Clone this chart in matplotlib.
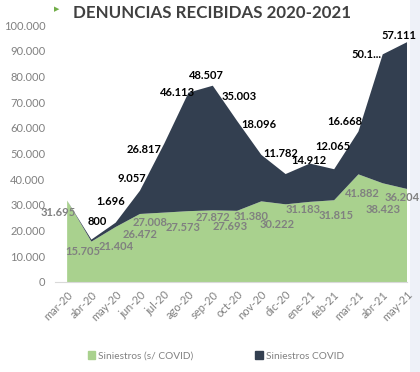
import numpy as np
import matplotlib
matplotlib.use("Agg")
import matplotlib.pyplot as plt
from matplotlib.patches import Patch, Rectangle

# ---------------------------
# DATA
# ---------------------------
meses = ["mar-20", "abr-20", "may-20", "jun-20", "jul-20", "ago-20", "sep-20",
         "oct-20", "nov-20", "dic-20", "ene-21", "feb-21", "mar-21", "abr-21", "may-21"]
sin_covid = [31695, 15705, 21404, 26472, 27008, 27573, 27872,
             27693, 31380, 30222, 31183, 31815, 41882, 38423, 36204]
covid = [0, 800, 1696, 9057, 26817, 46113, 48507,
         35003, 18096, 11782, 14912, 12065, 16668, 50150, 57111]
covid_labels = ["", "800", "1.696", "9.057", "26.817", "46.113", "48.507",
                "35.003", "18.096", "11.782", "14.912", "12.065", "16.668", "50.1...", "57.111"]
yticks = [0, 10000, 20000, 30000, 40000, 50000, 60000, 70000, 80000, 90000, 100000]

# label offsets in pixels (dx, dy downward) relative to the point
off_green = [(-9, 12), (-9, 10), (0, 20), (0, 21), (-14, 10), (-5, 16), (0, 7),
             (-7, 16), (-10, 15), (-8, 20), (-7, 8), (2, 15), (4, 19), (0, 26), (-5, 9)]
off_covid = [(0, 0), (6, -18), (-5, -21), (-8, -12), (-20, 6), (-11, 0), (-6, -10),
             (2, -24), (-2, -30), (-5, -21), (-1, -3), (-1, -23), (-14, -10), (-16, 0), (-8, -7)]

GREEN = "#a9d18e"
NAVY = "#333f50"
GRAY = "#808080"


def fmt(v):
    return f"{v:,}".replace(",", ".")


plt.rcParams["font.family"] = ["Lato", "DejaVu Sans"]

fig = plt.figure(figsize=(4.2, 3.72), dpi=100)
fig.patch.set_facecolor("white")
# light strip on the right side
fig.patches.append(Rectangle((0.977, 0), 0.023, 1, transform=fig.transFigure,
                             facecolor="#eef1f8", edgecolor="none", zorder=-5))

ax = fig.add_axes([55 / 420, 90 / 372, 352 / 420, 257 / 372])
x = np.arange(len(meses))
ax.stackplot(x, sin_covid, covid, colors=[GREEN, NAVY], linewidth=0)

ax.set_xlim(-0.5, len(meses) - 1)
ax.set_ylim(0, 100000)
ax.set_yticks(yticks)
ax.set_yticklabels([fmt(v) for v in yticks])
ax.set_xticks(x)
ax.set_xticklabels(meses, rotation=45, ha="right", rotation_mode="anchor")
ax.tick_params(axis="both", length=0, colors=GRAY, labelsize=8)
ax.tick_params(axis="y", pad=7)
ax.tick_params(axis="x", pad=5)
for s in ["left", "right", "top"]:
    ax.spines[s].set_visible(False)
ax.spines["bottom"].set_color("#d9d9d9")
ax.set_facecolor("none")

totals = np.array(sin_covid) + np.array(covid)
for i in range(len(meses)):
    dx, dy = off_green[i]
    ax.annotate(fmt(sin_covid[i]), (x[i], sin_covid[i]), xytext=(dx, -dy),
                textcoords="offset pixels", ha="center", va="center",
                fontsize=8, fontweight="bold", color=GRAY, annotation_clip=False)
    if covid_labels[i]:
        dx, dy = off_covid[i]
        ax.annotate(covid_labels[i], (x[i], totals[i]), xytext=(dx, -dy),
                    textcoords="offset pixels", ha="center", va="center",
                    fontsize=8, fontweight="bold", color="black", annotation_clip=False)

# title
fig.text(212 / 420, 1 - 13 / 372, "DENUNCIAS RECIBIDAS 2020-2021", ha="center", va="center",
         fontsize=12.2, fontweight="bold", color="#404040")
fig.text(57 / 420, 1 - 9 / 372, "\u25B6", ha="center", va="center",
         fontsize=5, color="#70ad47", family="DejaVu Sans")

handles = [Patch(color=GREEN, label="Siniestros (s/ COVID)"),
           Patch(color=NAVY, label="Siniestros COVID")]
fig.legend(handles=handles, loc="center", bbox_to_anchor=(216 / 420, 1 - 356 / 372),
           ncol=2, frameon=False, fontsize=7.3, labelcolor=GRAY, handlelength=0.7,
           handleheight=0.7, handletextpad=0.3, columnspacing=6.1)

fig.savefig("out.png", dpi=100)
